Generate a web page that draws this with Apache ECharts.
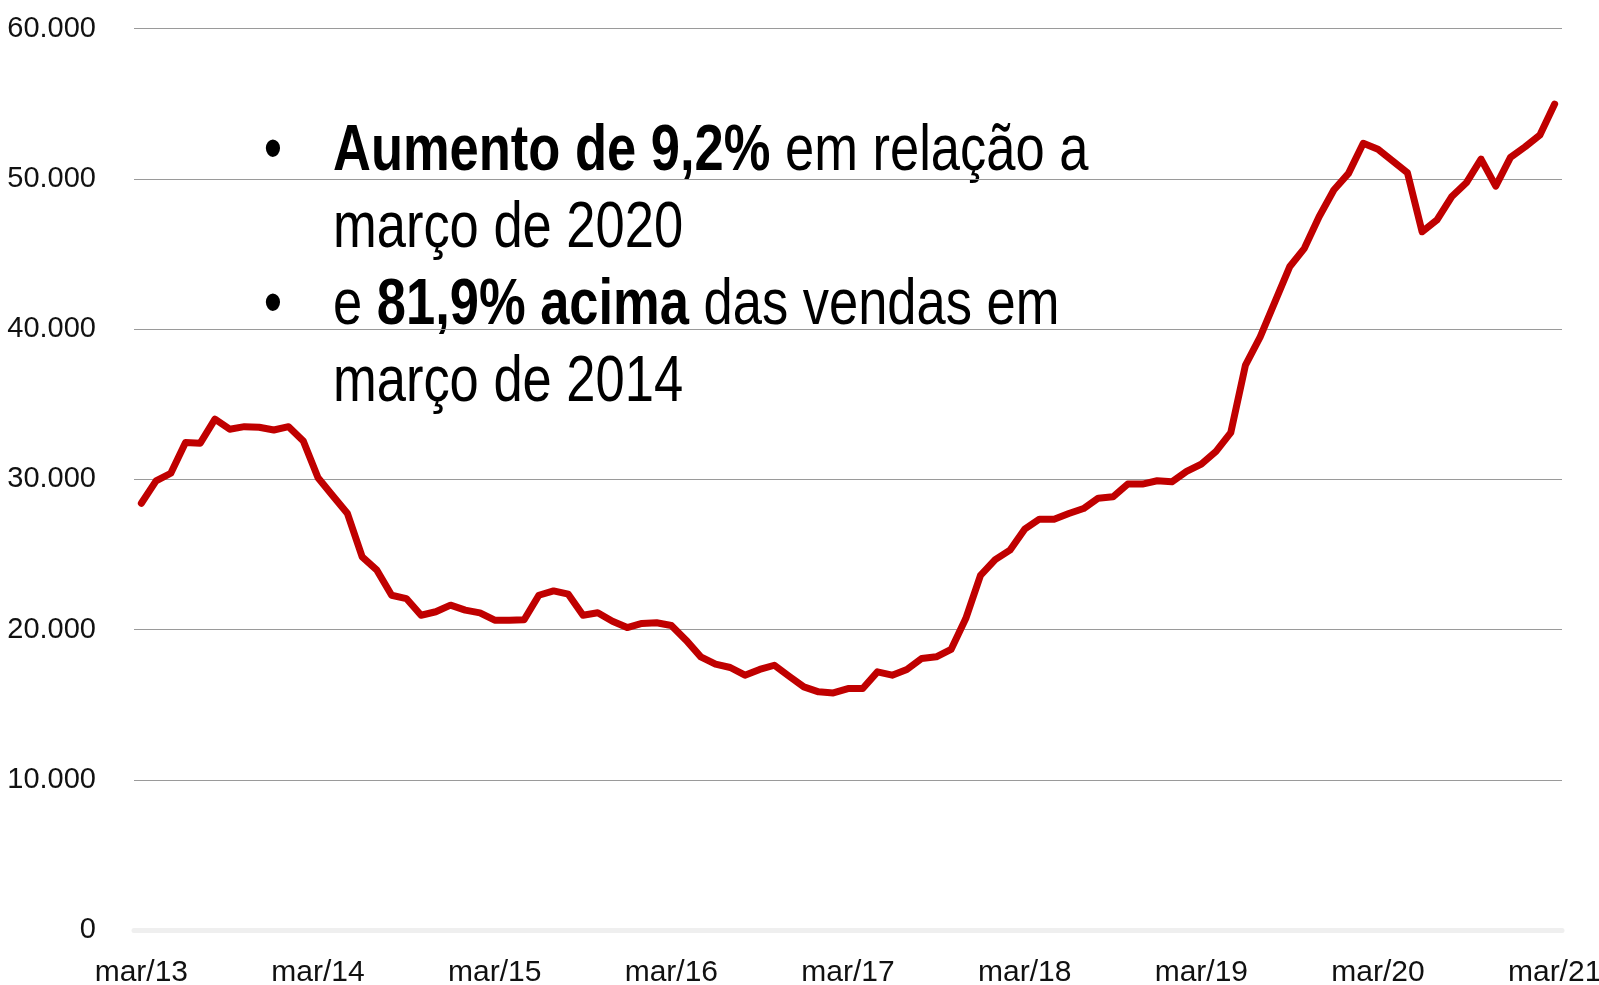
<!DOCTYPE html>
<html>
<head>
<meta charset="utf-8">
<title>Vendas</title>
<script src="https://cdn.jsdelivr.net/npm/echarts/dist/echarts.min.js"></script>
<style>
  html, body { margin: 0; padding: 0; background: #fff; }
  #myChart { width: 1599px; height: 985px; }
</style>
</head>
<body>
<div id="myChart"></div>
<script>
// meses (mar/13 ate mar/21)
var monthNames = ['mar', 'abr', 'mai', 'jun', 'jul', 'ago', 'set', 'out', 'nov', 'dez', 'jan', 'fev']
var startYear = 13
var monthCount = 97

// valores
var vendas = [
  28400, 29890, 30400, 32440, 32400, 34000, 33330, 33500, 33460, 33280, 33500, 32550,
  30100, 28900, 27720, 24830, 23950, 22280, 22060, 20950, 21180, 21620, 21290, 21110,
  20620, 20620, 20650, 22280, 22570, 22350, 20950, 21110, 20550, 20130, 20400, 20450,
  20270, 19290, 18180, 17690, 17470, 16960, 17340, 17620, 16890, 16180, 15850, 15780,
  16070, 16070, 17180, 16960, 17340, 18070, 18180, 18670, 20730, 23600, 24650, 25280,
  26680, 27340, 27340, 27720, 28050, 28740, 28830, 29680, 29680, 29900, 29830, 30520,
  31010, 31850, 33100, 37600, 39480, 41810, 44140, 45370, 47470, 49250, 50360, 52360,
  51960, 51180, 50400, 46470, 47250, 48800, 49730, 51310, 49510, 51420, 52130, 52910,
  54970
]

var yTicks = [0, 10000, 20000, 30000, 40000, 50000, 60000]

var notes = [
  { bullet: true, text: '{b|Aumento de 9,2%}{n| em relação a}' },
  { bullet: false, text: '{n|março de 2020}' },
  { bullet: true, text: '{n|e }{b|81,9% acima}{n| das vendas em}' },
  { bullet: false, text: '{n|março de 2014}' }
]

var categorias = []
for (var i = 0; i < monthCount; i++) {
  var m = i % 12
  var yr = startYear + Math.floor((i + 2) / 12)
  categorias.push(monthNames[m] + '/' + yr)
}

var fonte = "'Liberation Sans', Arial, sans-serif"

function fmtMil (v) {
  return String(v).replace(/\B(?=(\d{3})+(?!\d))/g, '.')
}

// texto com marcadores (fonte estreita simulada com scaleX)
var graficos = []
notes.forEach(function (item, idx) {
  var y = 152 + idx * 77
  if (item.bullet) {
    graficos.push({
      type: 'text',
      x: 273,
      y: y,
      scaleX: 0.82,
      style: {
        text: '•',
        font: '64px ' + fonte,
        fill: '#000',
        align: 'center',
        verticalAlign: 'middle'
      }
    })
  }
  graficos.push({
    type: 'text',
    x: 333,
    y: y,
    scaleX: 0.82,
    style: {
      text: item.text,
      fill: '#000',
      align: 'left',
      verticalAlign: 'middle',
      rich: {
        b: { fontFamily: fonte, fontSize: 64, fontWeight: 'bold', fill: '#000' },
        n: { fontFamily: fonte, fontSize: 64, fill: '#000' }
      }
    }
  })
})

var myChart = echarts.init(document.getElementById('myChart'))
myChart.setOption({
  animation: false,
  grid: {
    left: 134,
    right: 37,
    top: 28.5,
    bottom: 55,
    outerBoundsMode: 'none'
  },
  xAxis: {
    type: 'category',
    boundaryGap: true,
    data: categorias,
    axisTick: { show: false },
    axisLine: {
      show: true,
      lineStyle: { color: '#efefef', width: 5 }
    },
    axisLabel: {
      interval: 11,
      margin: 28,
      color: '#111',
      fontFamily: fonte,
      fontSize: 30
    },
    splitLine: { show: false }
  },
  yAxis: {
    type: 'value',
    min: yTicks[0],
    max: yTicks[yTicks.length - 1],
    interval: yTicks[1] - yTicks[0],
    axisLine: { show: false },
    axisTick: { show: false },
    axisLabel: {
      margin: 38,
      color: '#111',
      fontFamily: fonte,
      fontSize: 29,
      formatter: function (v) {
        return fmtMil(v)
      }
    },
    splitLine: {
      lineStyle: { color: '#9a9a9a', width: 1 }
    }
  },
  graphic: graficos,
  series: [
    {
      name: 'Vendas',
      type: 'line',
      data: vendas,
      showSymbol: false,
      lineStyle: {
        color: '#c00000',
        width: 7,
        cap: 'round',
        join: 'round'
      },
      itemStyle: { color: '#c00000' }
    }
  ]
})
</script>
</body>
</html>
